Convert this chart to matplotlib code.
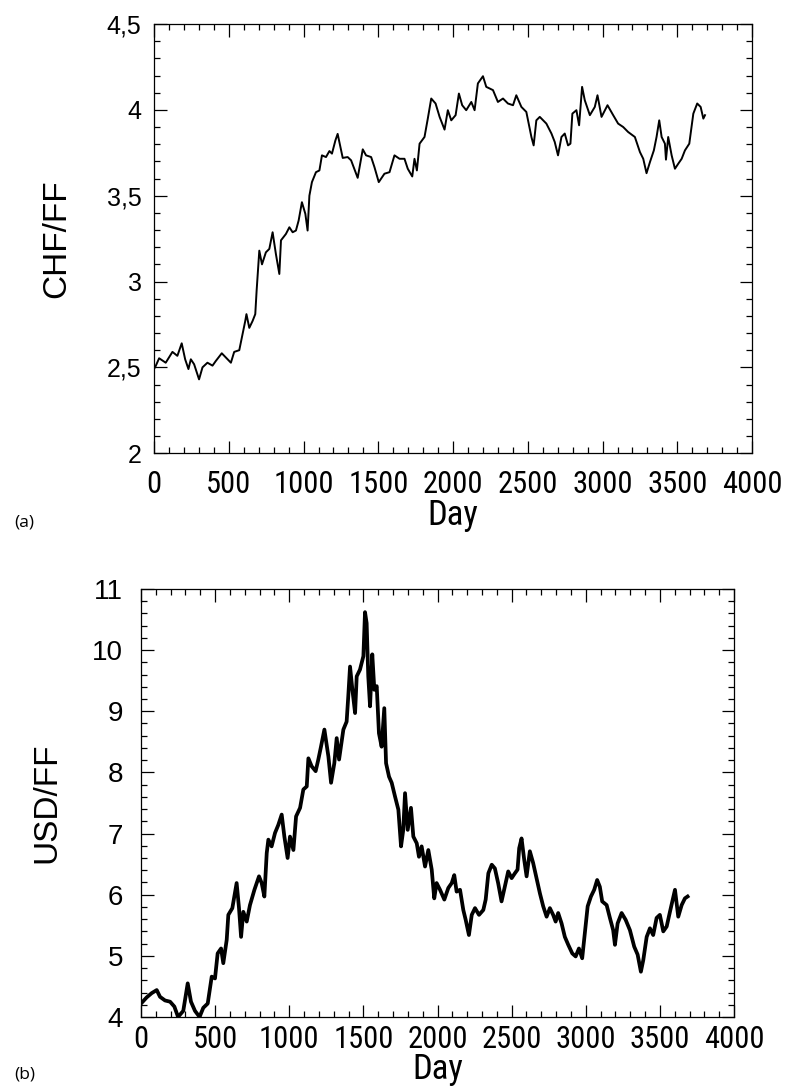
import matplotlib
matplotlib.use('Agg')
import matplotlib.pyplot as plt
from matplotlib.ticker import MultipleLocator, FuncFormatter
from matplotlib import font_manager

# CHF/FF exchange rate, daily series (day index, rate)
days_chf = [7, 34, 78, 123, 156, 185, 208, 230, 246, 268, 301, 324, 357, 391, 413,
            453, 485, 514, 536, 570, 587, 610, 618, 637, 659, 677, 686, 704, 722, 748,
            771, 793, 815, 838, 849, 882, 905, 927, 949, 967, 989, 1012, 1027, 1039,
            1056, 1083, 1106, 1123, 1150, 1173, 1190, 1213, 1228, 1262, 1295, 1318,
            1362, 1396, 1418, 1452, 1474, 1503, 1541, 1575, 1608, 1642, 1675, 1697,
            1727, 1742, 1758, 1776, 1809, 1831, 1854, 1883, 1910, 1927, 1943, 1965,
            1988, 2017, 2039, 2061, 2088, 2122, 2144, 2166, 2200, 2222, 2267, 2300,
            2334, 2367, 2401, 2423, 2457, 2490, 2524, 2539, 2557, 2580, 2624, 2658,
            2680, 2702, 2725, 2747, 2769, 2785, 2798, 2825, 2843, 2863, 2881, 2915,
            2948, 2966, 2993, 3033, 3071, 3104, 3138, 3171, 3216, 3250, 3272, 3294,
            3317, 3343, 3361, 3379, 3395, 3417, 3424, 3439, 3462, 3484, 3506, 3529,
            3551, 3580, 3607, 3633, 3656, 3674, 3685]
chf_ff = [2.50, 2.553, 2.527, 2.59, 2.567, 2.64, 2.547, 2.49, 2.547, 2.518, 2.43, 2.50,
          2.527, 2.51, 2.537, 2.582, 2.553, 2.527, 2.59, 2.60, 2.673, 2.77, 2.81, 2.73,
          2.77, 2.81, 2.946, 3.18, 3.10, 3.17, 3.19, 3.287, 3.16, 3.044, 3.24, 3.277,
          3.316, 3.287, 3.297, 3.355, 3.462, 3.394, 3.297, 3.50, 3.579, 3.637, 3.647,
          3.735, 3.725, 3.76, 3.745, 3.822, 3.86, 3.72, 3.725, 3.706, 3.604, 3.77,
          3.735, 3.725, 3.667, 3.579, 3.628, 3.637, 3.735, 3.715, 3.715, 3.657, 3.612,
          3.715, 3.647, 3.803, 3.842, 3.949, 4.066, 4.037, 3.959, 3.92, 3.885, 3.998,
          3.939, 3.969, 4.095, 4.027, 3.998, 4.046, 3.998, 4.154, 4.196, 4.134, 4.115,
          4.046, 4.066, 4.037, 4.027, 4.085, 4.017, 3.988, 3.842, 3.793, 3.939, 3.959,
          3.92, 3.862, 3.813, 3.735, 3.842, 3.862, 3.793, 3.803, 3.978, 3.998, 3.91,
          4.134, 4.056, 3.969, 4.017, 4.085, 3.959, 4.027, 3.969, 3.92, 3.90, 3.871,
          3.842, 3.754, 3.715, 3.631, 3.696, 3.764, 3.842, 3.939, 3.842, 3.803, 3.71,
          3.842, 3.735, 3.657, 3.686, 3.715, 3.764, 3.803, 3.978, 4.037, 4.017, 3.949,
          3.969]

# USD/FF exchange rate
days_usd = [4, 38, 72, 106, 128, 162, 196, 225, 250, 285, 315, 337, 364, 395, 420, 450,
            477, 499, 517, 540, 555, 578, 589, 616, 645, 661, 675, 690, 713, 735, 765,
            796, 814, 832, 848, 859, 881, 904, 926, 949, 967, 989, 1005, 1028, 1046,
            1073, 1095, 1118, 1129, 1151, 1178, 1196, 1214, 1237, 1264, 1282, 1304,
            1320, 1336, 1365, 1387, 1398, 1410, 1426, 1444, 1455, 1477, 1500, 1511,
            1522, 1533, 1545, 1560, 1574, 1590, 1605, 1623, 1641, 1653, 1673, 1691,
            1713, 1736, 1754, 1769, 1781, 1799, 1821, 1837, 1860, 1875, 1893, 1916,
            1938, 1961, 1978, 1994, 2017, 2046, 2073, 2096, 2113, 2129, 2152, 2174,
            2190, 2212, 2231, 2253, 2280, 2309, 2325, 2343, 2366, 2387, 2409, 2432,
            2454, 2477, 2500, 2522, 2540, 2551, 2567, 2585, 2601, 2623, 2645, 2668,
            2691, 2713, 2736, 2758, 2780, 2797, 2814, 2837, 2859, 2882, 2909, 2932,
            2954, 2976, 2994, 3013, 3035, 3057, 3077, 3095, 3111, 3141, 3163, 3185,
            3197, 3215, 3242, 3269, 3298, 3327, 3350, 3372, 3388, 3411, 3433, 3455,
            3478, 3500, 3523, 3546, 3568, 3602, 3624, 3647, 3669, 3687]
usd_ff = [4.23, 4.32, 4.39, 4.44, 4.33, 4.27, 4.25, 4.17, 4.00, 4.10, 4.55, 4.25, 4.10,
          4.00, 4.15, 4.22, 4.66, 4.63, 5.04, 5.12, 4.88, 5.26, 5.67, 5.78, 6.19, 5.78,
          5.31, 5.72, 5.56, 5.83, 6.08, 6.30, 6.19, 5.97, 6.68, 6.90, 6.79, 7.01, 7.14,
          7.31, 6.95, 6.60, 6.95, 6.73, 7.28, 7.42, 7.72, 7.77, 8.23, 8.10, 8.02, 8.21,
          8.42, 8.70, 8.26, 7.83, 8.15, 8.56, 8.21, 8.70, 8.83, 9.24, 9.73, 9.35, 8.97,
          9.57, 9.68, 9.90, 10.62, 10.44, 9.57, 9.08, 9.93, 9.35, 9.41, 8.64, 8.42,
          9.05, 8.15, 7.93, 7.83, 7.61, 7.39, 6.79, 7.06, 7.66, 7.06, 7.42, 6.95, 6.84,
          6.62, 6.79, 6.46, 6.73, 6.41, 5.94, 6.19, 6.08, 5.92, 6.11, 6.19, 6.32, 6.05,
          6.08, 5.75, 5.59, 5.34, 5.67, 5.78, 5.67, 5.75, 5.92, 6.35, 6.49, 6.43, 6.19,
          5.89, 6.13, 6.38, 6.27, 6.35, 6.41, 6.76, 6.92, 6.57, 6.30, 6.71, 6.52, 6.27,
          6.02, 5.81, 5.64, 5.78, 5.67, 5.56, 5.70, 5.53, 5.31, 5.18, 5.04, 4.99, 5.12,
          4.96, 5.37, 5.81, 5.97, 6.08, 6.24, 6.13, 5.89, 5.83, 5.62, 5.42, 5.18, 5.53,
          5.70, 5.59, 5.42, 5.15, 5.02, 4.74, 4.93, 5.31, 5.45, 5.34, 5.62, 5.67, 5.40,
          5.48, 5.72, 6.08, 5.64, 5.83, 5.94, 5.97]

day_ticks = [0, 500, 1000, 1500, 2000, 2500, 3000, 3500, 4000]

# narrow face for the day axis, first one found
installed = {f.name for f in font_manager.fontManager.ttflist}
narrow = 'Liberation Sans'
for name in ['Liberation Sans Narrow', 'Arial Narrow', 'Nimbus Sans Narrow',
             'Roboto Condensed', 'PT Sans Narrow', 'Archivo Narrow', 'Pragati Narrow']:
    if name in installed:
        narrow = name
        break

plt.rcParams['font.family'] = ['Liberation Sans', 'DejaVu Sans']


def comma_fmt(v, pos):
    s = ('%.1f' % v).rstrip('0').rstrip('.')
    return s.replace('.', ',')


def style_axes(ax, ylim, ystep, ylabel, ytick_size, ypad, ylabel_x, xpad, daypad):
    ax.set_xlim(0, 4000)
    ax.set_ylim(*ylim)
    ax.set_xticks(day_ticks)
    ax.xaxis.set_minor_locator(MultipleLocator(100))
    ax.yaxis.set_major_locator(MultipleLocator(ystep))
    ax.yaxis.set_minor_locator(MultipleLocator(ystep / 5))
    ax.yaxis.set_major_formatter(FuncFormatter(comma_fmt))
    ax.tick_params(which='both', direction='in', top=True, right=True,
                   width=0.9, color='black')
    ax.tick_params(which='major', length=9)
    ax.tick_params(which='minor', length=4.5)
    ax.tick_params(axis='y', labelsize=ytick_size, pad=ypad)
    ax.tick_params(axis='x', labelsize=22, pad=xpad)
    for lab in ax.get_xticklabels():
        lab.set_fontfamily(narrow)
    for sp in ax.spines.values():
        sp.set_linewidth(0.9)
    ax.set_xlabel('Day', fontsize=25, fontfamily=narrow, labelpad=daypad)
    ax.set_ylabel(ylabel, fontsize=24)
    ax.yaxis.set_label_coords(ylabel_x, 0.5)


fig = plt.figure(figsize=(7.9, 10.92), dpi=100)

ax1 = fig.add_axes([0.195, 0.585, 0.757, 0.393])
ax1.plot(days_chf, chf_ff, color='black', lw=1.4)
style_axes(ax1, (2, 4.5), 0.5, 'CHF/FF', 18, 9, -0.137, 12, 0)
fig.text(0.018, 0.518, '(a)', fontsize=12.5, fontfamily='Open Sans')

ax2 = fig.add_axes([0.1785, 0.0687, 0.7506, 0.392])
ax2.plot(days_usd, usd_ff, color='black', lw=2.7)
style_axes(ax2, (4, 11), 1, 'USD/FF', 20, 13, -0.132, 6, -1)
fig.text(0.018, 0.012, '(b)', fontsize=12.5, fontfamily='Open Sans')

fig.savefig('out.png', dpi=100)
